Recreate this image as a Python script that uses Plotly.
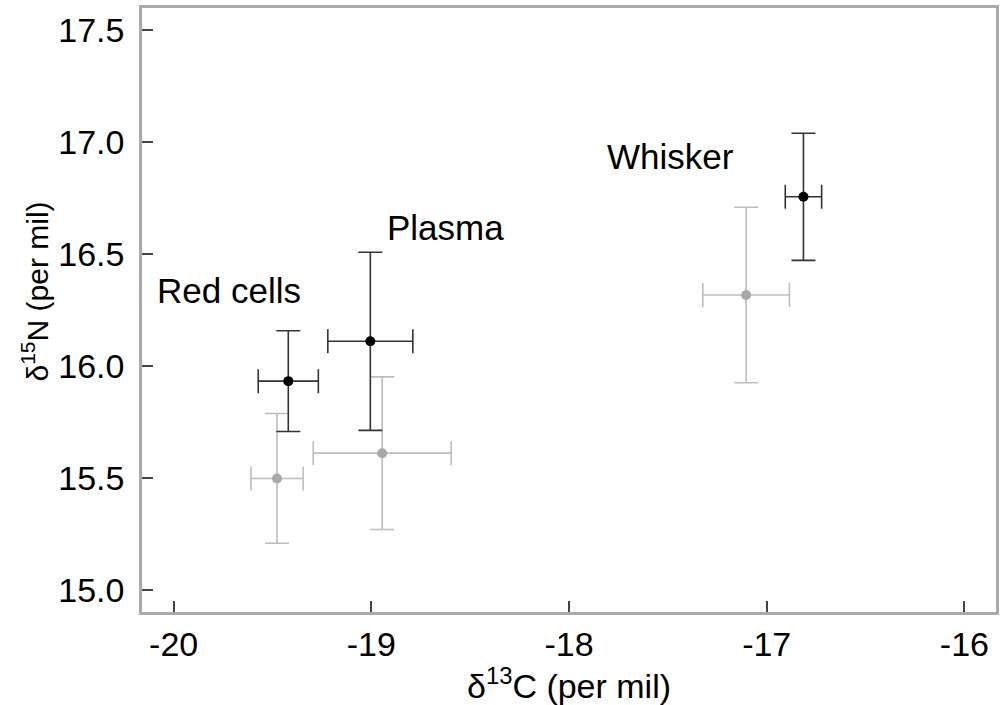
import plotly.graph_objects as go

# Tissue labels
tissues = ["Red cells", "Plasma", "Whisker"]

# Black series (mean, SD)
black_c = [-19.42, -19.005, -16.814]
black_c_err = [0.152, 0.215, 0.092]
black_n = [15.932, 16.110, 16.756]
black_n_err = [0.225, 0.398, 0.284]

# Gray series (mean, SD)
gray_c = [-19.477, -18.945, -17.104]
gray_c_err = [0.132, 0.349, 0.219]
gray_n = [15.497, 15.610, 16.317]
gray_n_err = [0.290, 0.341, 0.392]

# Label placement (text anchors)
label_x = [-20.092, -18.929, -17.818]
label_y = [16.338, 16.620, 16.938]

x_ticks = [-20, -19, -18, -17, -16]
y_ticks = [15.0, 15.5, 16.0, 16.5, 17.0, 17.5]

FONT = "Liberation Sans, Arial, sans-serif"

fig = go.Figure()

fig.add_trace(go.Scatter(
    x=gray_c, y=gray_n, mode="markers",
    marker=dict(color="#a8a8a8", size=10),
    error_x=dict(type="data", array=gray_c_err, color="#bdbdbd", thickness=1.6, width=12),
    error_y=dict(type="data", array=gray_n_err, color="#bdbdbd", thickness=1.6, width=12),
    showlegend=False, hoverinfo="skip",
))

fig.add_trace(go.Scatter(
    x=black_c, y=black_n, mode="markers",
    marker=dict(color="#000000", size=10),
    error_x=dict(type="data", array=black_c_err, color="#333333", thickness=1.6, width=12),
    error_y=dict(type="data", array=black_n_err, color="#333333", thickness=1.6, width=12),
    showlegend=False, hoverinfo="skip",
))

for t, lx, ly in zip(tissues, label_x, label_y):
    fig.add_annotation(x=lx, y=ly, text=t, showarrow=False,
                       xanchor="left", yanchor="middle",
                       font=dict(family=FONT, size=35, color="#000000"))

# y-axis title (placed as annotation to match its offset position)
fig.add_annotation(xref="paper", yref="paper", x=-0.125, y=0.531,
                   text="δ<sup>15</sup>N (per mil)", textangle=-90,
                   showarrow=False, xanchor="center", yanchor="middle",
                   font=dict(family=FONT, size=30, color="#000000"))

axis_common = dict(
    showgrid=False, zeroline=False, automargin=False,
    showline=True, linecolor="#aaaaaa", linewidth=2.5, mirror=True,
    ticks="inside", ticklen=11, tickwidth=1.5, tickcolor="#444444",
    tickfont=dict(family=FONT, size=34, color="#000000"),
)

fig.update_xaxes(range=[-20.16, -15.84], tickvals=x_ticks,
                 ticktext=[str(v) for v in x_ticks],
                 title=dict(text="δ<sup>13</sup>C (per mil)",
                            font=dict(family=FONT, size=34, color="#000000"),
                            standoff=2),
                 **axis_common)
fig.update_yaxes(range=[14.9, 17.6], tickvals=y_ticks,
                 ticktext=[f"{v:.1f}" for v in y_ticks],
                 ticklabelstandoff=8,
                 **axis_common)

fig.update_layout(
    width=1002, height=705,
    margin=dict(l=142, r=6, t=8, b=93),
    plot_bgcolor="#ffffff", paper_bgcolor="#ffffff",
)

fig.write_html("out.html", config={"displayModeBar": False},
               post_script="document.body.style.margin='0';document.body.style.overflow='hidden';")
